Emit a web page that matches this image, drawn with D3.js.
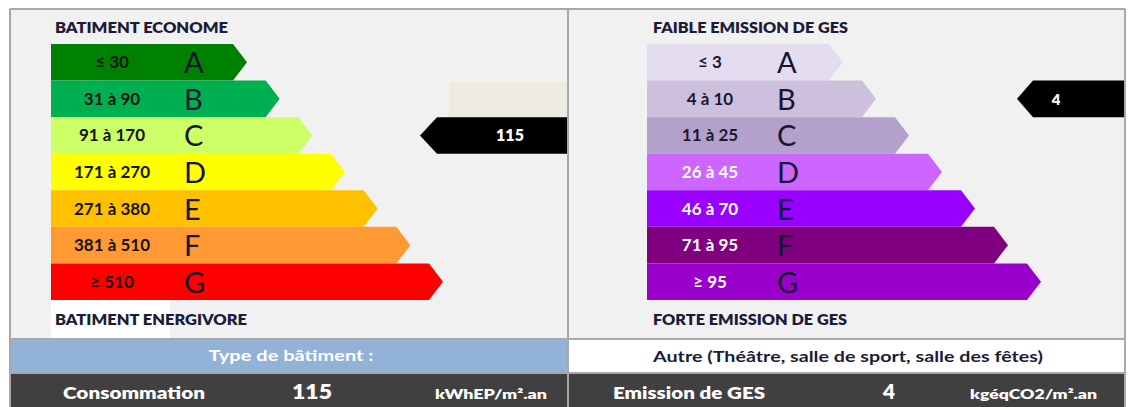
<!DOCTYPE html>
<html>
<head>
<meta charset="utf-8">
<script src="https://cdn.jsdelivr.net/npm/d3@7"></script>
<style>
  html, body { margin: 0; padding: 0; background: #ffffff; }
  svg { display: block; }
  text { font-family: Lato, "Open Sans", sans-serif; }
</style>
</head>
<body>
<svg id="dpe" width="1131" height="407"></svg>
<script>
// Energy classes shared by both scales
const classes = ["A", "B", "C", "D", "E", "F", "G"];

// Energy consumption scale (kWhEP/m².an)
const energyRanges = ["≤ 30", "31 à 90", "91 à 170", "171 à 270", "271 à 380", "381 à 510", "≥ 510"];
const energyUpper = [30, 90, 170, 270, 380, 510];
const energyColors = ["#008000", "#00b050", "#ccff66", "#ffff00", "#ffc000", "#ff9933", "#ff0000"];
const energyTextColors = ["#141414", "#141414", "#141414", "#141414", "#141414", "#141414", "#141414"];

// Greenhouse gas emission scale (kgéqCO2/m².an)
const gesRanges = ["≤ 3", "4 à 10", "11 à 25", "26 à 45", "46 à 70", "71 à 95", "≥ 95"];
const gesUpper = [3, 10, 25, 45, 70, 95];
const gesColors = ["#e4ddf0", "#cdc0dc", "#b3a0cb", "#cc66ff", "#9900ff", "#800080", "#9900cc"];
const gesTextColors = ["#1a1a2e", "#1a1a2e", "#1a1a2e", "#ffffff", "#ffffff", "#ffffff", "#ffffff"];

// Building values
const energyValue = 115;
const gesValue = 4;
const buildingType = "Autre (Théâtre, salle de sport, salle des fêtes)";

const titles = {
  energyTop: "BATIMENT ECONOME",
  energyBottom: "BATIMENT ENERGIVORE",
  gesTop: "FAIBLE EMISSION DE GES",
  gesBottom: "FORTE EMISSION DE GES"
};

const svg = d3.select("#dpe");
const W = 1131, H = 407;
const frameL = 10, frameMid = 568, frameR = 1125, frameT = 9, panelBottom = 339, rowSplit = 373;

// Panel backgrounds
svg.append("rect").attr("x", frameL).attr("y", frameT).attr("width", frameR - frameL).attr("height", panelBottom - frameT)
  .attr("fill", "#f1f1f1");
svg.append("rect").attr("x", 51).attr("y", 300).attr("width", 119).attr("height", 38).attr("fill", "#ffffff");

// Row band shared by both panels
const yBand = d3.scaleBand().domain(classes).range([44, 300]).paddingInner(0);

// Tip position of each class arrow
const energyTip = d3.scaleLinear().domain([0, classes.length - 1]).range([247, 443]);
const gesTip = d3.scaleLinear().domain([0, classes.length - 1]).range([843, 1041]);

const headDepth = 14;

function arrowPath(x0, tip, y0, y1) {
  const ym = (y0 + y1) / 2;
  return d3.line()([[x0, y0], [tip - headDepth, y0], [tip, ym], [tip - headDepth, y1], [x0, y1]]) + "Z";
}

function drawScale(cfg) {
  const g = svg.append("g");
  const rows = g.selectAll("g.row").data(classes).join("g").attr("class", "row");
  rows.append("path")
    .attr("d", (c, i) => arrowPath(cfg.x0, cfg.tip(i), yBand(c), yBand(c) + yBand.bandwidth()))
    .attr("fill", (c, i) => cfg.colors[i]);
  rows.append("text")
    .attr("x", cfg.rangeX)
    .attr("y", c => yBand(c) + yBand.bandwidth() / 2 + 6)
    .attr("text-anchor", "middle")
    .attr("font-size", 17)
    .attr("font-weight", 700)
    .attr("fill", (c, i) => cfg.textColors[i])
    .text((c, i) => cfg.ranges[i]);
  rows.append("text")
    .attr("x", cfg.letterX)
    .attr("y", c => yBand(c) + yBand.bandwidth() / 2 + 11)
    .attr("font-size", 29)
    .attr("fill", "#15152e")
    .text(c => c);

  g.append("text").attr("x", cfg.titleX).attr("y", 33)
    .attr("font-size", 14.5).attr("font-weight", 800).attr("fill", "#1c1c38")
    .attr("textLength", cfg.topLen).attr("lengthAdjust", "spacingAndGlyphs")
    .text(cfg.topTitle);
  g.append("text").attr("x", cfg.titleX).attr("y", 325)
    .attr("font-size", 14.5).attr("font-weight", 800).attr("fill", "#1c1c38")
    .attr("textLength", cfg.bottomLen).attr("lengthAdjust", "spacingAndGlyphs")
    .text(cfg.bottomTitle);
}

drawScale({
  x0: 51, tip: energyTip, colors: energyColors, textColors: energyTextColors, ranges: energyRanges,
  rangeX: 112, letterX: 184, titleX: 55, topTitle: titles.energyTop, bottomTitle: titles.energyBottom,
  topLen: 173, bottomLen: 192
});
drawScale({
  x0: 647, tip: gesTip, colors: gesColors, textColors: gesTextColors, ranges: gesRanges,
  rangeX: 710, letterX: 777, titleX: 653, topTitle: titles.gesTop, bottomTitle: titles.gesBottom,
  topLen: 195, bottomLen: 194
});

// Class of each value
const energyClass = classes[d3.bisectLeft(energyUpper, energyValue)];
const gesClass = classes[d3.bisectLeft(gesUpper, gesValue)];

// Pale cell above the energy marker
svg.append("rect").attr("x", 449).attr("y", yBand(classes[classes.indexOf(energyClass) - 1]) + 1)
  .attr("width", frameMid - 449).attr("height", yBand.bandwidth() - 1).attr("fill", "#eeece1");

function marker(yClass, tipX, headX, endX, label, labelX, size) {
  const y0 = yBand(yClass), y1 = y0 + yBand.bandwidth(), ym = (y0 + y1) / 2;
  svg.append("path")
    .attr("d", d3.line()([[endX, y0], [headX, y0], [tipX, ym], [headX, y1], [endX, y1]]) + "Z")
    .attr("fill", "#000000");
  svg.append("text").attr("x", labelX).attr("y", ym + 6)
    .attr("text-anchor", "middle").attr("font-size", size).attr("font-weight", 800)
    .attr("fill", "#ffffff").text(label);
}
marker(energyClass, 420, 437, frameMid, energyValue, 510, 16);
marker(gesClass, 1017, 1033, frameR, gesValue, 1056, 15);

// Building type row
svg.append("rect").attr("x", frameL).attr("y", panelBottom).attr("width", frameMid - frameL).attr("height", rowSplit - panelBottom)
  .attr("fill", "#93b2d7");
svg.append("rect").attr("x", frameMid).attr("y", panelBottom).attr("width", frameR - frameMid).attr("height", rowSplit - panelBottom)
  .attr("fill", "#ffffff");
svg.append("text").attr("x", 291).attr("y", 361).attr("text-anchor", "middle")
  .attr("font-size", 15).attr("font-weight", 700).attr("fill", "#ffffff")
  .attr("textLength", 165).attr("lengthAdjust", "spacingAndGlyphs").text("Type de bâtiment :");
svg.append("text").attr("x", 848).attr("y", 362).attr("text-anchor", "middle")
  .attr("font-size", 15).attr("font-weight", 700).attr("fill", "#1c1c38")
  .attr("textLength", 390).attr("lengthAdjust", "spacingAndGlyphs").text(buildingType);

// Values row
svg.append("rect").attr("x", frameL).attr("y", rowSplit).attr("width", frameR - frameL).attr("height", H - rowSplit)
  .attr("fill", "#404040");
const valueRow = [
  { text: "Consommation", x: 63, len: 142, size: 16 },
  { text: String(energyValue), x: 292, len: 40, size: 20 },
  { text: "kWhEP/m².an", x: 435, len: 112, size: 13 },
  { text: "Emission de GES", x: 613, len: 152, size: 16 },
  { text: String(gesValue), x: 883, len: 12, size: 20 },
  { text: "kgéqCO2/m².an", x: 970, len: 127, size: 13 }
];
svg.selectAll("text.val").data(valueRow).join("text").attr("class", "val")
  .attr("x", d => d.x).attr("y", 399)
  .attr("font-size", d => d.size).attr("font-weight", 800).attr("fill", "#ffffff")
  .attr("textLength", d => d.len).attr("lengthAdjust", "spacingAndGlyphs")
  .text(d => d.text);

// Cell borders
const lineColor = "#a8a8a8";
const lines = [
  [frameL, frameT, frameR, frameT],
  [frameL, frameT, frameL, H],
  [frameR, frameT, frameR, H],
  [frameMid, frameT, frameMid, H],
  [frameL, panelBottom, frameR, panelBottom],
  [frameL, rowSplit, frameR, rowSplit]
];
svg.selectAll("line.border").data(lines).join("line").attr("class", "border")
  .attr("x1", d => d[0]).attr("y1", d => d[1]).attr("x2", d => d[2]).attr("y2", d => d[3])
  .attr("stroke", lineColor).attr("stroke-width", 2);
</script>
</body>
</html>
